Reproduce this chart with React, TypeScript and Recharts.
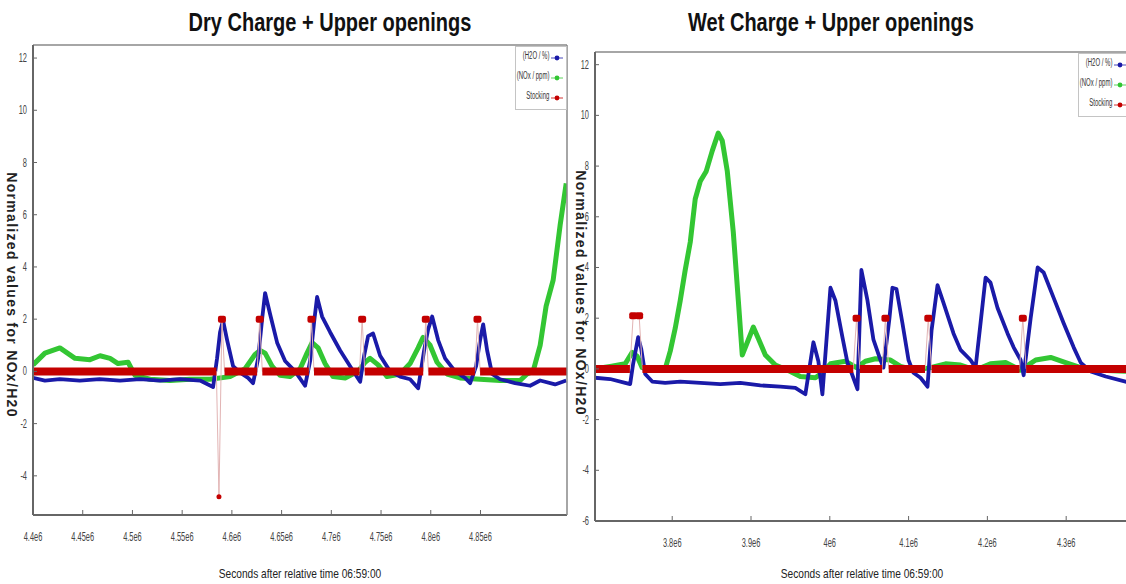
import React from 'react';
import { LineChart, Line, XAxis, YAxis } from 'recharts';

const BLUE = '#1a1aa8';
const GREEN = '#33c633';
const RED = '#c40000';
const AXIS = '#666';
const SANS = "'Liberation Sans', Arial, sans-serif";

// ---- Dry charge (left) ----
const dryH2oT = [4.4e6, 4.412e6, 4.427e6, 4.447e6, 4.467e6, 4.4875e6, 4.5076e6, 4.5278e6, 4.5479e6, 4.568e6, 4.5811e6, 4.5851e6, 4.5881e6, 4.5911e6, 4.5952e6, 4.6012e6, 4.6083e6, 4.6163e6, 4.6213e6, 4.6264e6, 4.6304e6, 4.6334e6, 4.6384e6, 4.6455e6, 4.6535e6, 4.6636e6, 4.6736e6, 4.6787e6, 4.6827e6, 4.6857e6, 4.6907e6, 4.6988e6, 4.7089e6, 4.7189e6, 4.7239e6, 4.729e6, 4.733e6, 4.737e6, 4.742e6, 4.7491e6, 4.7591e6, 4.7692e6, 4.7792e6, 4.7873e6, 4.7933e6, 4.7973e6, 4.8014e6, 4.8074e6, 4.8144e6, 4.8245e6, 4.8345e6, 4.8396e6, 4.8456e6, 4.8496e6, 4.8527e6, 4.8567e6, 4.8617e6, 4.8697e6, 4.8848e6, 4.8999e6, 4.91e6, 4.925e6, 4.9362e6];
const dryH2oV = [-0.25, -0.35, -0.3, -0.35, -0.3, -0.35, -0.3, -0.35, -0.3, -0.35, -0.6, 0.5, 1.5, 1.95, 1.2, 0.2, -0.05, -0.25, -0.45, 0.5, 2.0, 3.0, 2.2, 1.1, 0.4, 0.0, -0.55, 0.4, 1.9, 2.85, 2.1, 1.5, 0.8, 0.2, -0.1, -0.4, 0.6, 1.35, 1.45, 0.6, 0.0, -0.2, -0.3, -0.65, 0.8, 1.6, 2.1, 1.2, 0.5, 0.0, -0.25, -0.45, 0.2, 1.2, 1.8, 0.8, -0.1, -0.3, -0.45, -0.55, -0.35, -0.5, -0.35];

const dryNoxT = [4.4e6, 4.412e6, 4.427e6, 4.4423e6, 4.4573e6, 4.4674e6, 4.4775e6, 4.4855e6, 4.4956e6, 4.5026e6, 4.5177e6, 4.5378e6, 4.558e6, 4.578e6, 4.5982e6, 4.6133e6, 4.6233e6, 4.6284e6, 4.6334e6, 4.6404e6, 4.6485e6, 4.6585e6, 4.6686e6, 4.6756e6, 4.6807e6, 4.6867e6, 4.6937e6, 4.7018e6, 4.7139e6, 4.727e6, 4.734e6, 4.739e6, 4.7471e6, 4.7561e6, 4.7692e6, 4.7792e6, 4.7873e6, 4.7923e6, 4.7993e6, 4.8063e6, 4.8164e6, 4.8295e6, 4.8496e6, 4.8697e6, 4.8898e6, 4.8968e6, 4.9029e6, 4.91e6, 4.916e6, 4.9231e6, 4.9301e6, 4.9362e6];
const dryNoxV = [0.25, 0.7, 0.9, 0.5, 0.45, 0.6, 0.5, 0.3, 0.35, -0.15, -0.3, -0.35, -0.3, -0.3, -0.2, 0.1, 0.65, 0.8, 0.7, 0.2, -0.15, -0.2, 0.1, 0.7, 1.1, 0.9, 0.3, -0.2, -0.25, 0.0, 0.35, 0.5, 0.25, -0.2, -0.1, 0.3, 0.9, 1.3, 1.0, 0.35, -0.1, -0.25, -0.3, -0.35, -0.35, -0.1, 0.0, 1.0, 2.5, 3.5, 5.6, 7.2];

const dryStockT = [4.587e6, 4.59e6, 4.628e6, 4.68e6, 4.731e6, 4.795e6, 4.847e6];
const dryStockV = [-4.8, 2, 2, 2, 2, 2, 2];

const dryXTicks = [4.4e6, 4.45e6, 4.5e6, 4.55e6, 4.6e6, 4.65e6, 4.7e6, 4.75e6, 4.8e6, 4.85e6];
const dryXLabels = ['4.4e6', '4.45e6', '4.5e6', '4.55e6', '4.6e6', '4.65e6', '4.7e6', '4.75e6', '4.8e6', '4.85e6'];
const dryYTicks = [-4, -2, 0, 2, 4, 6, 8, 10, 12];

// ---- Wet charge (right) ----
const wetH2oT = [3.702e6, 3.7212e6, 3.7403e6, 3.7466e6, 3.7504e6, 3.7568e6, 3.7606e6, 3.7657e6, 3.7746e6, 3.7911e6, 3.8102e6, 3.8356e6, 3.861e6, 3.8864e6, 3.9118e6, 3.9372e6, 3.9563e6, 3.969e6, 3.9792e6, 3.9855e6, 3.9906e6, 4.0008e6, 4.0071e6, 4.016e6, 4.0224e6, 4.0287e6, 4.0351e6, 4.0401e6, 4.0478e6, 4.0554e6, 4.0643e6, 4.0681e6, 4.0757e6, 4.0795e6, 4.0846e6, 4.0922e6, 4.0999e6, 4.1062e6, 4.1151e6, 4.124e6, 4.1291e6, 4.1367e6, 4.1443e6, 4.157e6, 4.1659e6, 4.1786e6, 4.185e6, 4.1913e6, 4.1977e6, 4.204e6, 4.2129e6, 4.2256e6, 4.2333e6, 4.2422e6, 4.246e6, 4.2549e6, 4.2638e6, 4.2714e6, 4.2841e6, 4.2968e6, 4.3095e6, 4.3184e6, 4.3311e6, 4.3502e6, 4.381e6];
const wetH2oV = [-0.35, -0.4, -0.55, -0.6, 0.2, 1.25, 0.8, -0.2, -0.5, -0.55, -0.5, -0.55, -0.6, -0.55, -0.65, -0.7, -0.75, -1.0, 1.05, 0.3, -1.0, 3.2, 2.7, 1.25, 0.25, -0.25, -0.8, 3.9, 2.7, 1.15, 0.35, 0.05, 2.0, 3.2, 3.15, 1.8, 0.35, -0.15, -0.35, -0.7, 1.5, 3.3, 2.6, 1.4, 0.75, 0.35, 0.05, 1.8, 3.6, 3.4, 2.4, 1.4, 0.85, 0.35, -0.25, 2.0, 4.0, 3.8, 2.8, 1.8, 0.85, 0.25, -0.1, -0.3, -0.55];

const wetNoxT = [3.702e6, 3.7212e6, 3.7403e6, 3.7492e6, 3.7555e6, 3.7619e6, 3.7784e6, 3.7911e6, 3.7975e6, 3.8038e6, 3.8102e6, 3.8165e6, 3.8229e6, 3.8292e6, 3.8356e6, 3.8432e6, 3.8508e6, 3.8584e6, 3.8635e6, 3.8699e6, 3.8775e6, 3.8839e6, 3.8889e6, 3.8966e6, 3.9029e6, 3.9093e6, 3.9182e6, 3.9309e6, 3.9499e6, 3.9626e6, 3.9817e6, 3.9906e6, 4.0008e6, 4.0198e6, 4.0338e6, 4.0452e6, 4.0579e6, 4.077e6, 4.0897e6, 4.1088e6, 4.1278e6, 4.1469e6, 4.1659e6, 4.185e6, 4.204e6, 4.2231e6, 4.2422e6, 4.2613e6, 4.2803e6, 4.2994e6, 4.3184e6, 4.3438e6, 4.381e6];
const wetNoxV = [0.0, 0.1, 0.2, 0.65, 0.5, 0.05, 0.0, 0.0, 0.7, 1.6, 2.7, 3.9, 5.0, 6.7, 7.4, 7.8, 8.6, 9.3, 9.0, 7.8, 5.4, 2.7, 0.55, 1.15, 1.65, 1.2, 0.55, 0.15, -0.1, -0.3, -0.35, -0.15, 0.2, 0.3, 0.05, 0.3, 0.4, 0.35, 0.1, -0.05, 0.05, 0.2, 0.15, -0.05, 0.2, 0.25, -0.05, 0.35, 0.45, 0.25, 0.05, -0.05, -0.1];

const wetStockT = [3.7505e6, 3.758e6, 4.034e6, 4.0706e6, 4.125e6, 4.245e6];
const wetStockV = [2.1, 2.1, 2, 2, 2, 2];

const wetXTicks = [3.8e6, 3.9e6, 4.0e6, 4.1e6, 4.2e6, 4.3e6];
const wetXLabels = ['3.8e6', '3.9e6', '4e6', '4.1e6', '4.2e6', '4.3e6'];
const wetYTicks = [-6, -4, -2, 0, 2, 4, 6, 8, 10, 12];

const seriesNames = ['(H2O / %)', '(NOx / ppm)', 'Stocking'];
const seriesColors = [BLUE, GREEN, RED];

const toRows = (ts: number[], vs: number[]) => ts.map((t, i) => ({ t, v: vs[i] }));

// stocking trace: zero baseline broken around each event (b = thick band, s = thin trace)
const buildStock = (ts: number[], vs: number[], start: number, end: number, gap: number) => {
  const pts: any[] = [{ t: start, s: 0, b: 0 }];
  ts.forEach((t, i) => {
    const prev = ts[i - 1];
    const next = ts[i + 1];
    if (prev === undefined || t - prev > 2 * gap) pts.push({ t: t - gap, s: 0, b: 0 });
    pts.push({ t, s: vs[i], b: null });
    if (next === undefined || next - t > 2 * gap) pts.push({ t: t + gap, s: 0, b: 0 });
  });
  pts.push({ t: end, s: 0, b: 0 });
  return pts;
};

const StockDot = (p: any) => {
  const key = `d-${p.index}`;
  if (p.payload.s === 0 || p.cx == null) return <g key={key} />;
  if (p.payload.s < 0) return <circle key={key} cx={p.cx} cy={p.cy} r={2.5} fill={RED} />;
  return <rect key={key} x={p.cx - 4} y={p.cy - 3.5} width={8} height={7} rx={2} fill={RED} />;
};

const makeYTick = (gap: number) => (p: any) => (
  <g>
    <text transform={`translate(${p.x},${p.y + 4}) scale(0.62,1)`} textAnchor="end" fontSize={12} fill="#444" fontFamily={SANS}>
      {p.payload.value}
    </text>
    <line x1={p.x + gap} x2={p.x + gap + 4} y1={p.y} y2={p.y} stroke={AXIS} />
  </g>
);

const makeXTick = (gap: number, ticks: number[], labels: string[]) => (p: any) => (
  <g>
    <text transform={`translate(${p.x},${p.y + 4}) scale(0.62,1)`} textAnchor="middle" fontSize={12} fill="#444" fontFamily={SANS}>
      {labels[ticks.indexOf(p.payload.value)]}
    </text>
    <line x1={p.x} x2={p.x} y1={p.y - gap} y2={p.y - gap - 5} stroke={AXIS} />
  </g>
);

const LegendBox = ({ left, top }: { left: number; top: number }) => (
  <div
    style={{
      position: 'absolute', left, top, width: 52, height: 64, border: '1px solid #c4c4c4',
      background: '#fff', fontFamily: SANS, fontSize: 10, color: '#333', boxSizing: 'border-box', paddingTop: 1,
    }}
  >
    {seriesNames.map((n, i) => (
      <div key={n} style={{ position: 'relative', height: 20 }}>
        <span style={{ position: 'absolute', right: 17, top: 2, whiteSpace: 'nowrap', transform: 'scaleX(0.6)', transformOrigin: 'right center' }}>{n}</span>
        <svg width={14} height={8} style={{ position: 'absolute', right: 2, top: 6 }}>
          <line x1={1} x2={13} y1={4} y2={4} stroke={seriesColors[i]} strokeWidth={0.8} />
          <circle cx={7} cy={4} r={2.4} fill={seriesColors[i]} />
        </svg>
      </div>
    ))}
  </div>
);

interface PanelProps {
  width: number;
  height: number;
  margin: any;
  xDomain: number[];
  yDomain: number[];
  xTicks: number[];
  xLabels: string[];
  yTicks: number[];
  h2o: any[];
  nox: any[];
  stock: any[];
}

const Panel = (p: PanelProps) => (
  <LineChart width={p.width} height={p.height} margin={p.margin}>
    <XAxis dataKey="t" type="number" domain={p.xDomain} ticks={p.xTicks} interval={0} height={1} tickSize={0} tickMargin={22}
      tick={makeXTick(22, p.xTicks, p.xLabels)} axisLine={{ stroke: AXIS, strokeWidth: 2 }} allowDataOverflow />
    <XAxis xAxisId="top" orientation="top" type="number" domain={p.xDomain} height={1} tick={false} tickLine={false}
      axisLine={{ stroke: '#888', strokeWidth: 1.5 }} allowDataOverflow />
    <YAxis type="number" domain={p.yDomain} ticks={p.yTicks} interval={0} width={1} tickSize={0} tickMargin={6}
      tick={makeYTick(6)} axisLine={{ stroke: AXIS, strokeWidth: 2 }} allowDataOverflow />
    <YAxis yAxisId="right" orientation="right" type="number" domain={p.yDomain} width={1} tick={false} tickLine={false}
      axisLine={{ stroke: '#888', strokeWidth: 1.5 }} allowDataOverflow />
    <Line data={p.nox} dataKey="v" stroke={GREEN} strokeWidth={5} dot={false} isAnimationActive={false} strokeLinejoin="round" />
    <Line data={p.h2o} dataKey="v" stroke={BLUE} strokeWidth={3.8} dot={false} isAnimationActive={false} strokeLinejoin="round" />
    <Line data={p.stock} dataKey="s" stroke="#e2b4b4" strokeWidth={1} dot={false} isAnimationActive={false} />
    <Line data={p.stock} dataKey="b" stroke={RED} strokeWidth={8} dot={false} isAnimationActive={false} connectNulls={false} strokeLinecap="butt" />
    <Line data={p.stock} dataKey="s" stroke="none" dot={StockDot} isAnimationActive={false} legendType="none" />
  </LineChart>
);

const textBase: React.CSSProperties = { position: 'absolute', whiteSpace: 'nowrap', transform: 'translate(-50%, -50%)' };
const titleStyle: React.CSSProperties = { ...textBase, transform: 'translate(-50%, -50%) scaleX(0.8)', fontFamily: SANS, fontWeight: 700, fontSize: 25, color: '#111' };
const xLabStyle: React.CSSProperties = { ...textBase, transform: 'translate(-50%, -50%) scaleX(0.78)', fontFamily: SANS, fontSize: 13, color: '#222' };
const yLabStyle: React.CSSProperties = { ...textBase, transform: 'translate(-50%, -50%) rotate(90deg)', fontFamily: SANS, fontWeight: 700, fontSize: 14, letterSpacing: 1.3, color: '#222' };

export default function App() {
  const dryDomain = [4.4e6, 4.937e6];
  const wetDomain = [3.702e6, 4.381e6];
  return (
    <div style={{ position: 'absolute', left: 0, top: 0, width: 1126, height: 584, overflow: 'hidden', background: '#fff' }}>
      <div style={{ position: 'absolute', left: 0, top: 0 }}>
        <Panel width={580} height={584} margin={{ top: 44, left: 32, right: 12, bottom: 68 }}
          xDomain={dryDomain} yDomain={[-5.5, 12.5]} xTicks={dryXTicks} xLabels={dryXLabels} yTicks={dryYTicks}
          h2o={toRows(dryH2oT, dryH2oV)} nox={toRows(dryNoxT, dryNoxV)}
          stock={buildStock(dryStockT, dryStockV, dryDomain[0], dryDomain[1], 2600)} />
      </div>
      <div style={{ position: 'absolute', left: 581, top: 0 }}>
        <Panel width={560} height={584} margin={{ top: 51, left: 13, right: 10, bottom: 62 }}
          xDomain={wetDomain} yDomain={[-6, 12.5]} xTicks={wetXTicks} xLabels={wetXLabels} yTicks={wetYTicks}
          h2o={toRows(wetH2oT, wetH2oV)} nox={toRows(wetNoxT, wetNoxV)}
          stock={buildStock(wetStockT, wetStockV, wetDomain[0], wetDomain[1], 4200)} />
      </div>

      <LegendBox left={515} top={46} />
      <LegendBox left={1078} top={53} />

      <div style={{ ...titleStyle, left: 330, top: 22 }}>Dry Charge + Upper openings</div>
      <div style={{ ...titleStyle, left: 831, top: 22 }}>Wet Charge + Upper openings</div>

      <div style={{ ...xLabStyle, left: 300, top: 573 }}>Seconds after relative time 06:59:00</div>
      <div style={{ ...xLabStyle, left: 862, top: 573 }}>Seconds after relative time 06:59:00</div>

      <div style={{ ...yLabStyle, left: 12, top: 295 }}>Normalized values for NOx/H20</div>
      <div style={{ ...yLabStyle, left: 581, top: 293 }}>Normalized values for NOx/H20</div>
    </div>
  );
}
